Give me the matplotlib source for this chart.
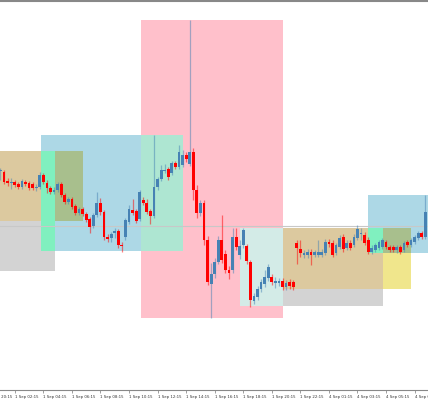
import matplotlib
matplotlib.use("Agg")
import matplotlib.pyplot as plt
from matplotlib.patches import Rectangle

# 15 minute candles, prices in points (higher = up)
opens = [229, 228, 219, 217, 218, 216, 213, 218, 217, 216,
         212, 213, 225, 217, 212, 208, 210, 216, 205, 198,
         201, 194, 187, 191, 186, 181, 174, 185, 197, 188,
         163, 162, 167, 169, 155, 163, 178, 190, 189, 181,
         200, 197, 189, 184, 213, 221, 229, 231, 227, 237,
         233, 235, 245, 236, 248, 210, 187, 197, 160, 116,
         126, 138, 160, 146, 130, 130, 163, 145, 155, 154,
         138, 99, 103, 111, 116, 122, 123, 117, 117, 119,
         113, 118, 118, 157, 151, 145, 145, 148, 145, 145,
         145, 147, 158, 157, 147, 153, 163, 152, 157, 155,
         162, 166, 165, 160, 148, 150, 152, 153, 158, 153,
         153, 150, 153, 150, 158, 155, 158, 162, 167, 163]
closes = [229, 218, 217, 218, 215, 213, 219, 216, 212, 212,
          213, 225, 218, 212, 208, 210, 216, 205, 198, 201,
          193, 187, 191, 186, 180, 173, 185, 197, 188, 163,
          161, 166, 169, 155, 154, 180, 191, 187, 179, 208,
          197, 188, 184, 213, 221, 230, 230, 223, 237, 233,
          248, 245, 241, 248, 210, 187, 197, 160, 118, 126,
          138, 160, 140, 130, 127, 163, 153, 154, 170, 139,
          100, 104, 111, 118, 123, 133, 118, 119, 119, 113,
          117, 114, 113, 152, 147, 147, 148, 145, 148, 148,
          148, 158, 156, 145, 155, 162, 151, 157, 152, 163,
          171, 167, 157, 148, 152, 155, 158, 160, 153, 150,
          150, 153, 148, 157, 155, 160, 163, 167, 163, 188]
highs = [232, 230, 222, 222, 220, 218, 221, 220, 219, 218,
         216, 228, 227, 220, 214, 213, 218, 218, 207, 203,
         203, 196, 193, 193, 188, 183, 187, 208, 202, 190,
         166, 168, 172, 171, 158, 182, 195, 201, 191, 210,
         203, 201, 191, 265, 223, 235, 236, 233, 239, 239,
         255, 250, 248, 380, 252, 215, 200, 200, 164, 137,
         142, 164, 185, 150, 134, 172, 172, 160, 172, 156,
         140, 107, 114, 121, 130, 136, 126, 123, 122, 122,
         120, 121, 120, 160, 160, 150, 151, 151, 150, 160,
         151, 161, 161, 160, 157, 165, 166, 160, 160, 166,
         175, 172, 168, 163, 155, 157, 160, 162, 160, 155,
         155, 155, 155, 159, 160, 162, 165, 169, 169, 205]
lows = [220, 216, 214, 211, 213, 211, 211, 214, 210, 210,
        209, 211, 216, 207, 206, 206, 208, 203, 196, 196,
        191, 185, 185, 184, 178, 167, 172, 183, 185, 160,
        158, 158, 162, 152, 148, 160, 176, 185, 177, 179,
        195, 186, 176, 182, 210, 219, 227, 220, 225, 231,
        231, 233, 238, 234, 200, 182, 184, 155, 115, 82,
        122, 136, 137, 127, 121, 127, 150, 141, 152, 136,
        93, 96, 100, 108, 113, 119, 115, 112, 114, 110,
        110, 111, 110, 136, 143, 142, 142, 135, 143, 143,
        143, 145, 153, 143, 145, 151, 148, 150, 150, 153,
        160, 160, 155, 146, 146, 148, 150, 151, 151, 148,
        148, 147, 146, 148, 153, 153, 156, 160, 161, 161]

tick_index = [-4, 4, 12, 20, 28, 36, 44, 52, 60, 68, 76, 84, 92, 100, 108, 116]
tick_labels = ["31 Aug 20:15", "1 Sep 02:15", "1 Sep 04:15", "1 Sep 06:15",
               "1 Sep 08:15", "1 Sep 10:15", "1 Sep 12:15", "1 Sep 14:15",
               "1 Sep 16:15", "1 Sep 18:15", "1 Sep 20:15", "1 Sep 22:15",
               "4 Sep 01:15", "4 Sep 03:15", "4 Sep 05:15", "4 Sep 07:15"]

# zones drawn on the chart: (kind, first bar, last bar, low, high)
zones = [("gray", -0.2, 15.3, 129, 249),
         ("yellow", -0.2, 23.1, 179, 249),
         ("blue", 11.3, 51.1, 149, 265),
         ("pink", 39.4, 79.1, 82, 380),
         ("gray", 67.1, 107.1, 94, 172),
         ("yellow", 79.1, 115.0, 111, 172),
         ("blue", 102.9, 121.0, 147, 205)]
level = 174.5

zone_colors = {"gray": "#d3d3d3", "yellow": "#f0e68c", "blue": "#add8e6", "pink": "#ffc0cb"}
# colour where two zones overlap, in drawing order
mix_colors = [(("gray", "yellow"), "#dcc99f"),
              (("yellow", "blue"), "#a8bf8d"),
              (("pink", "blue"), "#aee6d2"),
              (("pink", "gray"), "#d3ebe7"),
              (("gray", "blue"), "#80f0bf")]

up_color = "#4682b4"
down_color = "#ff0000"

fig = plt.figure(figsize=(4.28, 4.0), dpi=100)
ax = fig.add_axes([0, 10 / 400, 1, 389 / 400])

for kind, x0, x1, lo, hi in zones:
    ax.add_patch(Rectangle((x0, lo), x1 - x0, hi - lo, color=zone_colors[kind], lw=0, zorder=0))

for (ka, kb), col in mix_colors:
    for a in zones:
        for b in zones:
            if a[0] != ka or b[0] != kb:
                continue
            x0, x1 = max(a[1], b[1]), min(a[2], b[2])
            lo, hi = max(a[3], b[3]), min(a[4], b[4])
            if x1 > x0 and hi > lo:
                ax.add_patch(Rectangle((x0, lo), x1 - x0, hi - lo, color=col, lw=0, zorder=1))

ax.axhline(level, color="#c8c8c8", lw=0.8, zorder=2)

for i in range(len(opens)):
    o, c, h, l = opens[i], closes[i], highs[i], lows[i]
    col = up_color if c >= o else down_color
    ax.vlines(i, l, h, color=col, lw=0.9, alpha=0.5, zorder=3)
    bottom = min(o, c)
    height = max(abs(c - o), 1.2)
    ax.bar(i, height, bottom=bottom, width=0.78, color=col, lw=0, zorder=4)

ax.set_xticks(tick_index[1:])
ax.set_xticklabels(tick_labels[1:], fontsize=2.8, color="#333333", ha="left")
ax.tick_params(axis="x", direction="out", length=2, width=0.5, colors="#777777",
               labelcolor="#333333", pad=1.5)
# first label sits partly left of the chart
ax.text(tick_index[0], -0.0125, tick_labels[0], transform=ax.get_xaxis_transform(),
        fontsize=2.8, color="#333333", ha="left", va="top", clip_on=False)
ax.set_yticks([])
ax.set_xlim(-0.14, 119.75)
ax.set_ylim(10, 399)
ax.spines["left"].set_visible(False)
ax.spines["right"].set_visible(False)
ax.spines["top"].set_color("#888888")
ax.spines["top"].set_linewidth(1.5)
ax.spines["bottom"].set_color("#888888")
ax.spines["bottom"].set_linewidth(0.8)

fig.savefig("out.png", dpi=100)
